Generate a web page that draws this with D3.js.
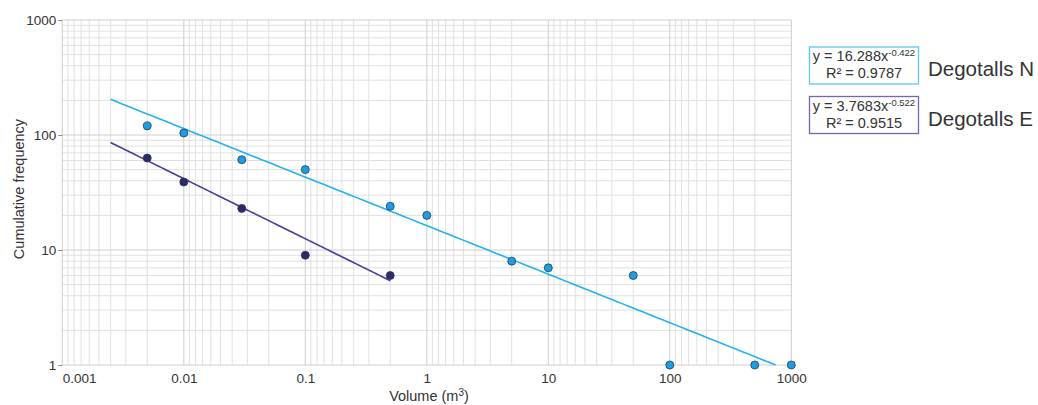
<!DOCTYPE html>
<html>
<head>
<meta charset="utf-8">
<script src="https://cdn.jsdelivr.net/npm/d3@7"></script>
<style>
  body { margin: 0; background: #fff; }
  text { font-family: "Liberation Sans", Arial, sans-serif; fill: #333; }
</style>
</head>
<body>
<svg id="chart" width="1038" height="405"></svg>
<script>
// data
var volN = [0.005, 0.01, 0.03, 0.1, 0.5, 1, 5, 10, 50, 100, 500, 1000]
var freqN = [120, 104, 61, 50, 24, 20, 8, 7, 6, 1, 1, 1]
var volE = [0.005, 0.01, 0.03, 0.1, 0.5]
var freqE = [63, 39, 23, 9, 6]

// power fits y = a * x^b from the legend
var fitN = [16.288, -0.422]
var fitE = [3.7683, -0.522]
var fitRangeN = [0.0025, 743]
var fitRangeE = [0.0025, 0.5]

var xTicks = [0.001, 0.01, 0.1, 1, 10, 100, 1000]
var xTickLabels = ["0.001", "0.01", "0.1", "1", "10", "100", "1000"]
var yTicks = [1, 10, 100, 1000]
var yTickLabels = ["1", "10", "100", "1000"]

var colorN = "#1a9fe3", lineN = "#22b2f0", boxN = "#5cc6f4"
var colorE = "#2d2a6c", lineE = "#4a3c98", boxE = "#7563b3"

var svg = d3.select("#chart")
var plotLeft = 62.3, plotRight = 791.3, plotTop = 20, plotBottom = 365

var x = d3.scaleLog().domain([0.001, 1000]).range([plotLeft, plotRight])
var y = d3.scaleLog().domain([1, 1000]).range([plotBottom, plotTop])

// grid: x minor lines sit at decade/k, y minor at k*decade
var xGrid = [], yGrid = []
for (var e = -3; e < 3; e++) {
    for (var k = 2; k <= 9; k++) xGrid.push(Math.pow(10, e + 1) / k)
}
for (var e = 0; e < 3; e++) {
    for (var k = 2; k <= 9; k++) yGrid.push(k * Math.pow(10, e))
}

var grid = svg.append("g")
grid.selectAll(".xg").data(xGrid).enter().append("line")
    .attr("x1", d => x(d)).attr("x2", d => x(d))
    .attr("y1", plotTop).attr("y2", plotBottom)
    .attr("stroke", "#e0e0e0").attr("stroke-width", 1)
grid.selectAll(".yg").data(yGrid).enter().append("line")
    .attr("x1", plotLeft).attr("x2", plotRight)
    .attr("y1", d => y(d)).attr("y2", d => y(d))
    .attr("stroke", "#e0e0e0").attr("stroke-width", 1)
grid.selectAll(".xm").data(xTicks).enter().append("line")
    .attr("x1", d => x(d)).attr("x2", d => x(d))
    .attr("y1", plotTop).attr("y2", plotBottom)
    .attr("stroke", "#cdcdcd").attr("stroke-width", 1)
grid.selectAll(".ym").data(yTicks).enter().append("line")
    .attr("x1", plotLeft).attr("x2", plotRight)
    .attr("y1", d => y(d)).attr("y2", d => y(d))
    .attr("stroke", "#cdcdcd").attr("stroke-width", 1)

// axes
var xAxis = d3.axisBottom(x).tickValues(xTicks)
    .tickFormat((d, i) => xTickLabels[i]).tickSize(0).tickPadding(8)
var gx = svg.append("g").attr("transform", "translate(0," + plotBottom + ")").call(xAxis)
gx.select(".domain").remove()
gx.selectAll("text").attr("font-size", 13.5).style("font-family", "Liberation Sans, Arial, sans-serif").attr("fill", "#333")
gx.selectAll("text").filter((d, i) => i == 0).attr("text-anchor", "start")

var yAxis = d3.axisLeft(y).tickValues(yTicks)
    .tickFormat((d, i) => yTickLabels[i]).tickSize(4).tickPadding(2)
var gy = svg.append("g").attr("transform", "translate(" + plotLeft + ",0)").call(yAxis)
gy.select(".domain").remove()
gy.selectAll("line").attr("stroke", "#888")
gy.selectAll("text").attr("font-size", 13.5).style("font-family", "Liberation Sans, Arial, sans-serif").attr("fill", "#333")

svg.append("text").attr("transform", "translate(24,189) rotate(-90)")
    .attr("text-anchor", "middle").attr("font-size", 14.5).text("Cumulative frequency")

var xt = svg.append("text").attr("x", 429).attr("y", 401)
    .attr("text-anchor", "middle").attr("font-size", 14.5)
xt.append("tspan").text("Volume (m")
xt.append("tspan").attr("font-size", 10).attr("dy", -5).text("3")
xt.append("tspan").attr("dy", 5).text(")")

// fit lines
function fitLine(fit, range, color) {
    var lo = Math.log10(range[0]), hi = Math.log10(range[1])
    var xs = d3.range(0, 101).map(i => Math.pow(10, lo + i / 100 * (hi - lo)))
    svg.append("path").datum(xs)
        .attr("d", d3.line().x(d => x(d)).y(d => y(fit[0] * Math.pow(d, fit[1]))))
        .attr("fill", "none").attr("stroke", color).attr("stroke-width", 1.6)
}
fitLine(fitN, fitRangeN, lineN)
fitLine(fitE, fitRangeE, lineE)

// points
function points(xs, ys, fill) {
    svg.append("g").selectAll("circle").data(xs).enter().append("circle")
        .attr("cx", d => x(d)).attr("cy", (d, i) => y(ys[i])).attr("r", 4)
        .attr("fill", fill).attr("stroke", "#2b3550").attr("stroke-width", 0.8)
}
points(volE, freqE, colorE)
points(volN, freqN, colorN)

// legend
function legend(y0, eq, r2, name, border) {
    var g = svg.append("g")
    g.append("rect").attr("x", 809.5).attr("y", y0).attr("width", 109).attr("height", 37)
        .attr("fill", "#fff").attr("stroke", border).attr("stroke-width", 1.3)
    var t1 = g.append("text").attr("x", 864).attr("y", y0 + 14).attr("text-anchor", "middle").attr("font-size", 14.5)
    t1.append("tspan").text("y = " + eq[0] + "x")
    t1.append("tspan").attr("font-size", 9.5).attr("dy", -5).text(eq[1])
    g.append("text").attr("x", 864).attr("y", y0 + 31).attr("text-anchor", "middle").attr("font-size", 14.5)
        .text("R\u00b2 = " + r2)
    g.append("text").attr("x", 928).attr("y", y0 + 29).attr("font-size", 20.5).text(name)
}
legend(47, fitN, "0.9787", "Degotalls N", boxN)
legend(96.5, fitE, "0.9515", "Degotalls E", boxE)
</script>
</body>
</html>
